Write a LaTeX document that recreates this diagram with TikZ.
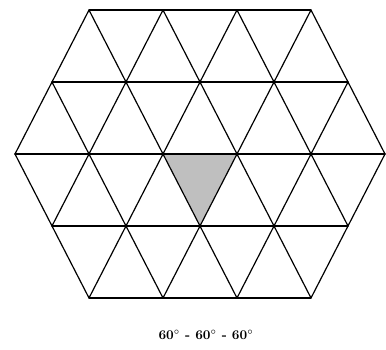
\documentclass[tikz,border=0pt]{standalone}
\usepackage{tikz}

\begin{document}
\begin{tikzpicture}[
        x=0.0264cm, y=-0.0264cm,
        edge/.style  = {line width=0.9pt, line cap=round, line join=round},
        shade/.style = {fill=gray!50},
        lbl/.style   = {font=\normalsize\bfseries}
    ]
        \useasboundingbox (0,0) rectangle (386,350);

        % shaded cell in the middle
        \fill[shade] (163,154) -- (237,154) -- (200,226) -- cycle;

        % horizontal rows
        \foreach \r/\n in {0/3, 1/4, 2/5, 3/4, 4/3}
            \draw[edge] (200-37*\n, 10+72*\r) -- (200+37*\n, 10+72*\r);

        % slanted edges, upper half
        \foreach \r/\n in {0/3, 1/4}
            \foreach \k in {0,...,\n} {
                \draw[edge] (200-37*\n+74*\k-37, 82+72*\r) -- (200-37*\n+74*\k, 10+72*\r)
                                                          -- (200-37*\n+74*\k+37, 82+72*\r);
            }

        % slanted edges, lower half
        \foreach \r/\n in {3/4, 4/3}
            \foreach \k in {0,...,\n} {
                \draw[edge] (200-37*\n+74*\k-37, 72*\r-62) -- (200-37*\n+74*\k, 10+72*\r)
                                                          -- (200-37*\n+74*\k+37, 72*\r-62);
            }

        \node[lbl] (cap) at (206,335) {60$^\circ$ - 60$^\circ$ - 60$^\circ$};
    \end{tikzpicture}
\end{document}
